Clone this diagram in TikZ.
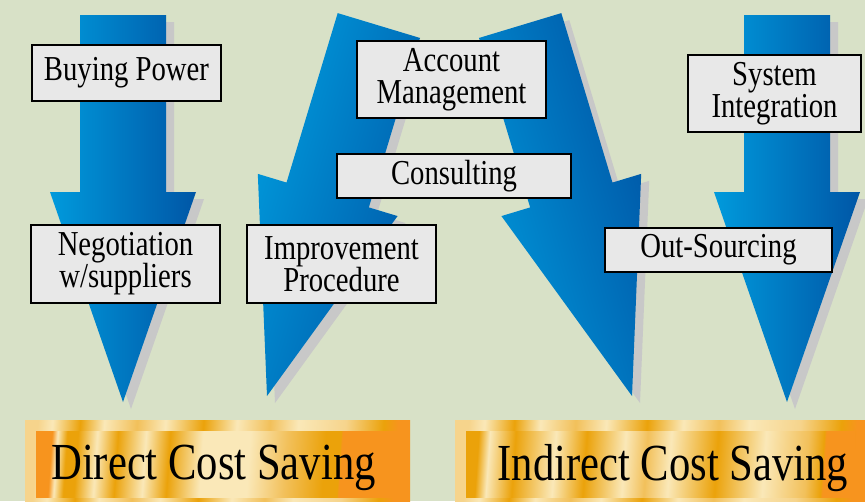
\documentclass[tikz,border=0pt]{standalone}
\usepackage{fontspec}
\setmainfont{Liberation Serif}[FakeStretch=0.82]
\usetikzlibrary{calc}
\definecolor{bgpaper}{RGB}{216,225,199}
\definecolor{arrowlight}{RGB}{0,154,220}
\definecolor{arrowdark}{RGB}{0,86,166}
\definecolor{arrowshadow}{RGB}{200,200,200}
\definecolor{boxgray}{RGB}{232,232,232}
\definecolor{goldorange}{RGB}{247,148,30}
\definecolor{goldamber}{RGB}{235,162,10}
\definecolor{goldmid}{RGB}{242,192,90}
\definecolor{goldpale}{RGB}{246,212,140}
\definecolor{goldlight}{RGB}{250,232,184}
\pgfdeclarehorizontalshading{goldbarA}{100bp}{color(0bp)=(goldorange); color(25bp)=(goldorange); color(25.6bp)=(goldorange); color(26.4bp)=(goldlight); color(27.8bp)=(goldamber); color(29.4bp)=(goldamber); color(32.2bp)=(goldlight); color(35.2bp)=(goldamber); color(39.3bp)=(goldlight); color(42.8bp)=(goldamber); color(47.6bp)=(goldlight); color(54.5bp)=(goldlight); color(60bp)=(goldmid); color(65.5bp)=(goldamber); color(67.7bp)=(goldamber); color(67.9bp)=(goldorange); color(100bp)=(goldorange)}
\pgfdeclarehorizontalshading{goldbarB}{100bp}{color(0bp)=(goldamber); color(25bp)=(goldamber); color(26.5bp)=(goldlight); color(30bp)=(goldamber); color(35.5bp)=(goldlight); color(39.7bp)=(goldamber); color(45bp)=(goldlight); color(48bp)=(goldmid); color(51.2bp)=(goldlight); color(57.6bp)=(goldamber); color(64.1bp)=(goldlight); color(69.9bp)=(goldmid); color(72bp)=(goldamber); color(72.3bp)=(goldorange); color(100bp)=(goldorange)}
\pgfdeclarehorizontalshading{goldframe}{100bp}{color(0bp)=(goldpale); color(25bp)=(goldpale); color(27bp)=(goldlight); color(30.8bp)=(goldamber); color(34.1bp)=(goldlight); color(38.6bp)=(goldmid); color(42.5bp)=(goldlight); color(47.7bp)=(goldamber); color(52.3bp)=(goldlight); color(56.8bp)=(goldmid); color(60.7bp)=(goldlight); color(67.2bp)=(goldpale); color(72.4bp)=(goldamber); color(74.4bp)=(goldorange); color(100bp)=(goldorange)}
\tikzset{
    greybox/.style={draw=black, line width=2.4pt, fill=boxgray, inner sep=0pt, align=center, font=\fontsize{35}{32}\selectfont},
    savingtext/.style={anchor=base, inner sep=0pt, font=\fontsize{52}{52}\selectfont},
    bigarrow/.pic={
      \path[pic actions] (0,0) -- (-73,-210) -- (-43,-210) -- (-43,-387) -- (43,-387) -- (43,-210) -- (73,-210) -- cycle;
    },
  }
\begin{document}
\begin{tikzpicture}[x=1pt,y=-1pt]
  \useasboundingbox (0,0) rectangle (865,501);
  \fill[bgpaper] (0,0) rectangle (865,501);
  %pointes des fleches
  \coordinate(tipA) at (123,402);
  \coordinate(tipB) at (267,396);
  \coordinate(tipC) at (632,396);
  \coordinate(tipD) at (787,402);
  %ombres puis fleches
  \foreach \t/\a in {tipA/0,tipB/-16.8,tipC/16.8,tipD/0}
    \pic[rotate=\a, fill=arrowshadow] at ($(\t)+(8,7)$) {bigarrow};
  \foreach \t/\a in {tipA/0,tipB/-16.8,tipC/16.8,tipD/0}
    \pic[rotate=\a, left color=arrowlight, right color=arrowdark, shading angle=90+\a] at (\t) {bigarrow};
  %barres dorees
  \shade[shading=goldframe, shading angle=-4] (25,420) rectangle (410,505);
  \shade[shading=goldbarA, shading angle=-4] (36,431) rectangle (399,497);
  \shade[shading=goldframe, shading angle=-4] (455,420) rectangle (870,505);
  \shade[shading=goldbarB, shading angle=-4] (466,431) rectangle (855,497);
  \node[savingtext] (direct) at (213.5,479) {Direct Cost Saving};
  \node[savingtext] (indirect) at (673,480) {Indirect Cost Saving};
  %boites
  \node[greybox, minimum width=189, minimum height=56] (buying) at (126.5,73) {Buying Power};
  \node[greybox, minimum width=189, minimum height=78] (nego) at (125.5,264) {Negotiation\\w/suppliers};
  \node[greybox, minimum width=189, minimum height=78] (improve) at (341.5,264) {Improvement\\Procedure};
  \node[greybox, minimum width=189, minimum height=77] (account) at (451.5,79.5) {Account\\Management};
  \node[greybox, minimum width=234, minimum height=44] (consult) at (454,176) {Consulting};
  \node[greybox, minimum width=173, minimum height=77] (system) at (774.5,93.5) {System\\Integration};
  \node[greybox, minimum width=227, minimum height=44] (outsrc) at (718.5,250) {Out-Sourcing};
\end{tikzpicture}
\end{document}
